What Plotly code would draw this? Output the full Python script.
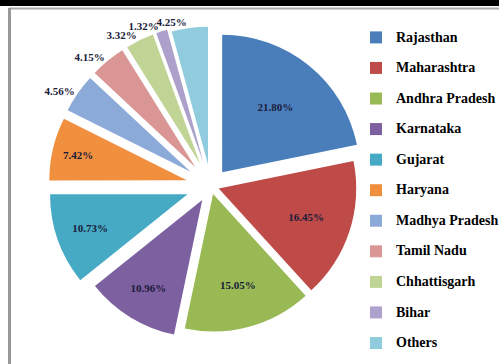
import plotly.graph_objects as go

states = ["Rajasthan", "Maharashtra", "Andhra Pradesh", "Karnataka", "Gujarat",
          "Haryana", "Madhya Pradesh", "Tamil Nadu", "Chhattisgarh", "Bihar", "Others"]
shares = [21.80, 16.45, 15.05, 10.96, 10.73, 7.42, 4.56, 4.15, 3.32, 1.32, 4.25]
colors = ["#4A7EBB", "#BE4B48", "#98B954", "#7D60A0", "#46AAC5", "#F0903F",
          "#8CAAD8", "#D99694", "#BFD495", "#ADA0CB", "#90CCDE"]
pulls = [0.13, 0.06, 0.06, 0.12, 0.18, 0.18, 0.18, 0.18, 0.18, 0.18, 0.16]
positions = ["inside"] * 6 + ["outside"] * 5
# which pie layer carries each slice's percentage label (avoids label collision shifting)
label_layer = [0, 0, 0, 0, 0, 0, 0, 1, 2, 1, 0]

W, H = 499, 364
legend_labels = ["<span style='font-size:14px'>%s</span><br>\u00a0" % s for s in states]
domain = dict(x=[48.65 / W, 373.15 / W], y=[1 - 348.25 / H, 1 - 23.75 / H])
tfont = dict(family="Liberation Serif", size=11, color="#1b1b3a", weight="bold")

fig = go.Figure()
for layer in range(3):
    fig.add_trace(go.Pie(
        labels=legend_labels,
        values=shares,
        sort=False,
        direction="clockwise",
        rotation=0,
        pull=pulls,
        marker=dict(colors=colors if layer == 0 else ["rgba(0,0,0,0)"] * len(shares),
                    line=dict(width=0)),
        texttemplate=["%{value:.2f}%" if g == layer else "" for g in label_layer],
        textposition=positions,
        insidetextorientation="horizontal",
        textfont=tfont,
        hoverinfo="skip",
        showlegend=(layer == 0),
        domain=domain,
    ))

fig.update_layout(
    width=W, height=H,
    margin=dict(l=0, r=0, t=0, b=0, autoexpand=False),
    paper_bgcolor="white",
    font=dict(family="Liberation Serif", color="black"),
    showlegend=True,
    legend=dict(
        x=356 / W, xanchor="left", y=1 - 24 / H, yanchor="top",
        font=dict(family="Liberation Serif", size=10.6, color="black", weight="bold"),
        valign="top", bgcolor="rgba(0,0,0,0)", borderwidth=0,
    ),
    shapes=[
        dict(type="rect", xref="paper", yref="paper", x0=0, x1=1,
             y0=1 - 6 / H, y1=1, fillcolor="black", line=dict(width=0)),
        dict(type="line", xref="paper", yref="paper", x0=9 / W, x1=1,
             y0=1 - 8.5 / H, y1=1 - 8.5 / H, line=dict(color="#AAAAAA", width=2)),
        dict(type="line", xref="paper", yref="paper", x0=9.5 / W, x1=9.5 / W,
             y0=0, y1=1 - 8 / H, line=dict(color="#999999", width=3)),
    ],
)

fig.write_html("out.html")
